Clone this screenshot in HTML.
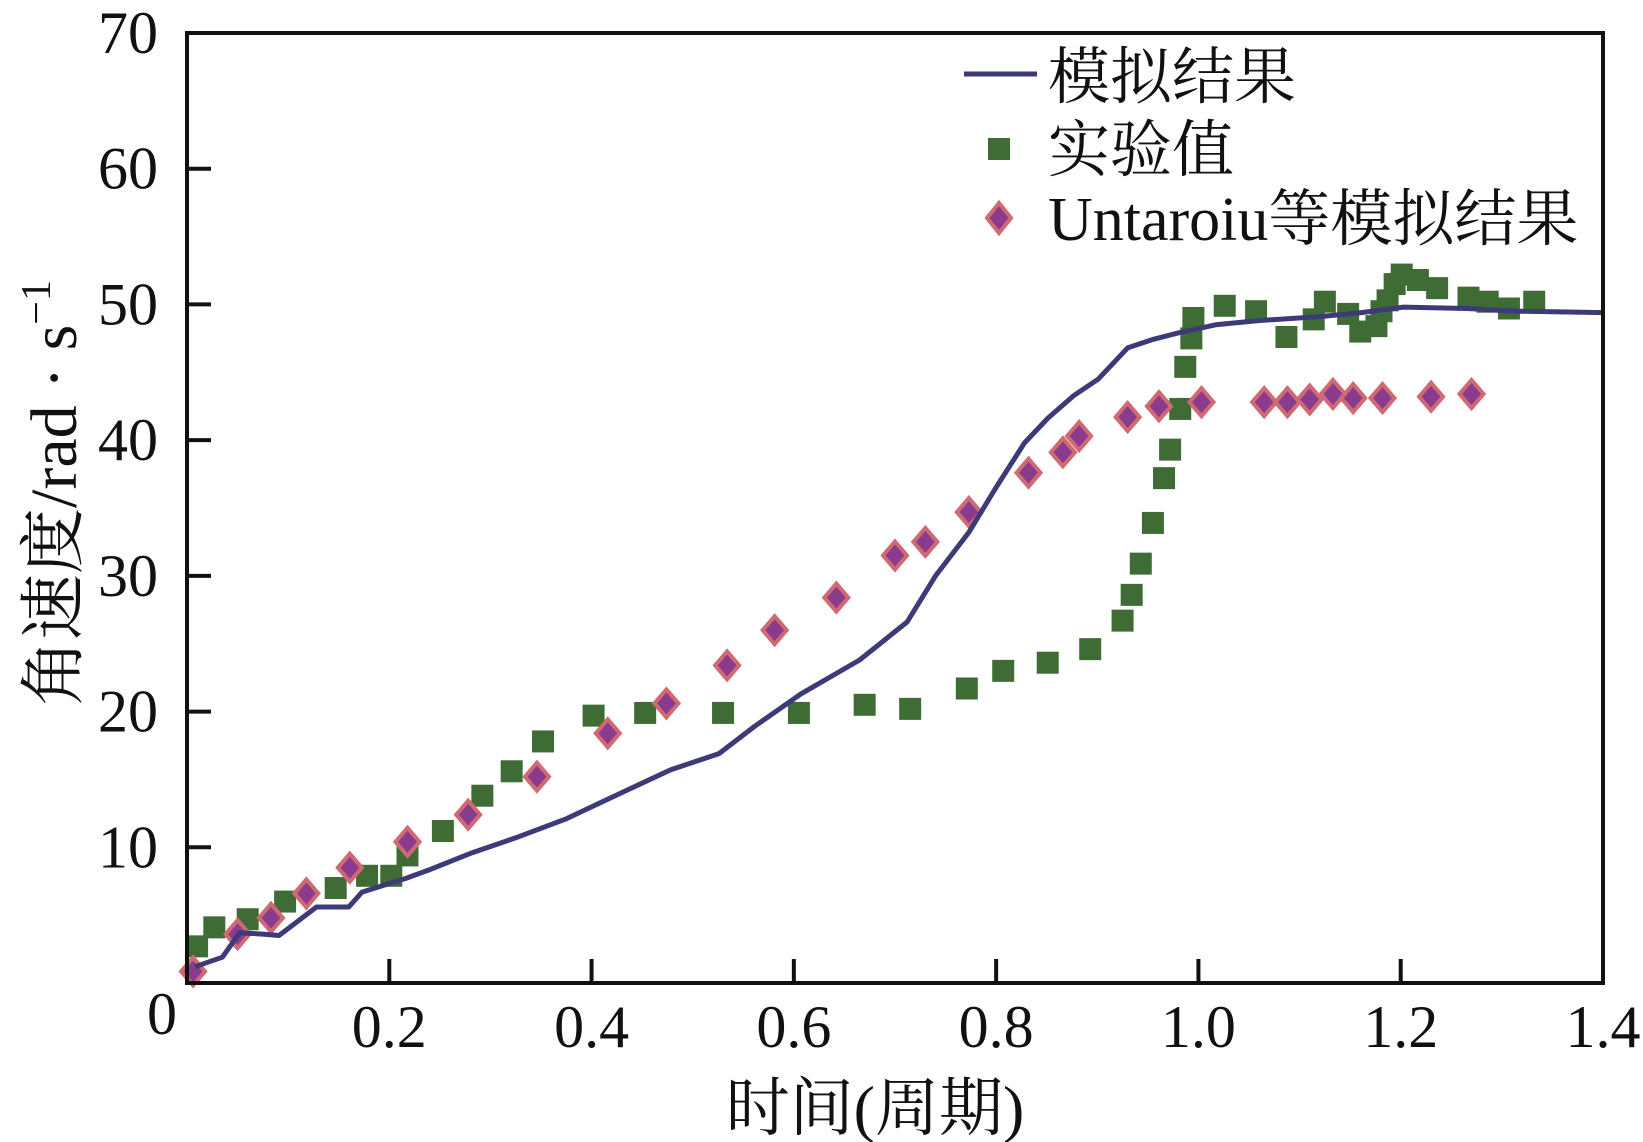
<!DOCTYPE html>
<html><head><meta charset="utf-8">
<style>
html,body{margin:0;padding:0;background:#fff;}
svg{display:block;}
text{font-family:"Liberation Serif","Noto Serif CJK SC","Noto Sans CJK SC",serif;fill:#111;}
</style></head>
<body>
<svg id="chart" width="1643" height="1142" viewBox="0 0 1643 1142" xmlns="http://www.w3.org/2000/svg">
<g id="plot"></g>
<g id="axes"></g>
<g id="legend">
  <line x1="964" y1="74" x2="1037" y2="74" stroke="#3d3a78" stroke-width="5"/>
  <text x="1048" y="98" font-size="62">模拟结果</text>
  <rect x="988" y="138" width="22" height="22" fill="#3f6b35"/>
  <text x="1048" y="171" font-size="62">实验值</text>
  <polygon points="999,203 1011,218 999,233 987,218" fill="#8b3b8e" stroke="#d06a72" stroke-width="4"/>
  <text x="1048" y="240" font-size="62">Untaroiu等模拟结果</text>
</g>
<text x="875" y="1130" font-size="64" text-anchor="middle">时间(周期)</text>
<text transform="translate(76,493) rotate(-90)" font-size="66" text-anchor="middle">角速度/rad · s<tspan font-size="42" dy="-26">−1</tspan></text>
</svg>
<script>
const xTicks = [0.2, 0.4, 0.6, 0.8, 1.0, 1.2, 1.4];
const xTickLabels = ["0.2", "0.4", "0.6", "0.8", "1.0", "1.2", "1.4"];
const yTicks = [10, 20, 30, 40, 50, 60, 70];
const yTickLabels = ["10", "20", "30", "40", "50", "60", "70"];
const simT = [0.008,0.035,0.052,0.075,0.091,0.128,0.16,0.173,0.216,0.238,0.282,0.325,0.375,0.432,0.478,0.526,0.561,0.607,0.665,0.712,0.74,0.773,0.799,0.828,0.851,0.877,0.901,0.93,0.954,0.98,1.017,1.058,1.12,1.161,1.203,1.265,1.317,1.4];
const simV = [1.2,1.9,3.7,3.6,3.5,5.6,5.6,6.7,7.7,8.3,9.6,10.7,12.1,14.1,15.7,16.9,18.9,21.3,23.8,26.6,30.0,33.2,36.4,39.8,41.6,43.3,44.5,46.8,47.4,47.9,48.5,48.8,49.1,49.4,49.8,49.7,49.5,49.4];
const expT = [0.01,0.027,0.06,0.097,0.147,0.178,0.202,0.218,0.253,0.292,0.321,0.352,0.402,0.453,0.53,0.605,0.67,0.715,0.771,0.807,0.851,0.893,0.925,0.934,0.943,0.955,0.966,0.972,0.982,0.987,0.993,0.995,1.026,1.057,1.087,1.114,1.125,1.148,1.16,1.176,1.181,1.187,1.194,1.201,1.217,1.236,1.267,1.286,1.307,1.332];
const expV = [2.7,4.1,4.7,6.0,7.0,7.9,7.9,9.4,11.2,13.8,15.6,17.8,19.7,19.9,19.9,19.9,20.5,20.2,21.7,23.0,23.6,24.6,26.7,28.6,30.9,33.9,37.2,39.3,42.3,45.4,47.5,49.0,49.9,49.5,47.6,48.9,50.2,49.3,48.0,48.4,49.5,50.3,51.5,52.2,51.8,51.2,50.5,50.2,49.7,50.2];
const untT = [0.006,0.05,0.083,0.118,0.161,0.218,0.278,0.346,0.416,0.474,0.534,0.581,0.642,0.70,0.73,0.773,0.832,0.866,0.882,0.93,0.961,1.003,1.065,1.088,1.11,1.133,1.153,1.182,1.23,1.27];
const untV = [0.85,3.6,4.8,6.6,8.5,10.4,12.4,15.2,18.4,20.6,23.4,26.0,28.4,31.5,32.5,34.7,37.6,39.1,40.3,41.7,42.5,42.8,42.8,42.8,43.0,43.4,43.1,43.1,43.2,43.4];

const X0 = 187, X1 = 1603, YT = 33, YB = 983;
function xs(v){ return X0 + (v / 1.4) * (X1 - X0); }
function ys(v){ return YB - (v / 70) * (YB - YT); }
const NS = "http://www.w3.org/2000/svg";
function mk(tag, attrs, parent){
  const e = document.createElementNS(NS, tag);
  for (const k in attrs) e.setAttribute(k, attrs[k]);
  parent.appendChild(e);
  return e;
}
const plot = document.getElementById('plot');
const axes = document.getElementById('axes');

for (let i = 0; i < expT.length; i++){
  const r = mk('rect', {x: xs(expT[i]) - 11, y: ys(expV[i]) - 11, width: 22, height: 22, fill: '#3f6b35'}, plot);
  
  
}
for (let i = 0; i < untT.length; i++){
  const cx = xs(untT[i]), cy = ys(untV[i]);
  const p = mk('polygon', {points: `${cx},${cy-14} ${cx+12},${cy} ${cx},${cy+14} ${cx-12},${cy}`, fill: '#8b3b8e', stroke: '#d06a72', 'stroke-width': 4}, plot);
  
  
}
const d = simT.map((t, i) => (i ? 'L' : 'M') + xs(t).toFixed(1) + ',' + ys(simV[i]).toFixed(1)).join(' ');
const line = mk('path', {d: d, fill: 'none', stroke: '#3d3a78', 'stroke-width': 5, 'stroke-linejoin': 'round'}, plot);



const frame = mk('rect', {x: X0, y: YT, width: X1 - X0, height: YB - YT, fill: 'none', stroke: '#111', 'stroke-width': 4}, axes);



for (let i = 0; i < yTicks.length; i++){
  const y = ys(yTicks[i]);
  const t = mk('line', {x1: X0, y1: y, x2: X0 + 24, y2: y, stroke: '#111', 'stroke-width': 4}, axes);
  
  
  const l = mk('text', {x: 158, y: y + 20, 'font-size': 60, 'text-anchor': 'end'}, axes);
  l.textContent = yTickLabels[i];
  
  
}
for (let i = 0; i < xTicks.length; i++){
  const x = xs(xTicks[i]);
  if (i < xTicks.length - 1){
    const t = mk('line', {x1: x, y1: YB, x2: x, y2: YB - 24, stroke: '#111', 'stroke-width': 4}, axes);
    
    
  }
  const l = mk('text', {x: x, y: 1047, 'font-size': 60, 'text-anchor': 'middle'}, axes);
  l.textContent = xTickLabels[i];
  
  
}
const z = mk('text', {x: 162, y: 1034, 'font-size': 60, 'text-anchor': 'middle'}, axes);
z.textContent = '0';


</script>
</body></html>
